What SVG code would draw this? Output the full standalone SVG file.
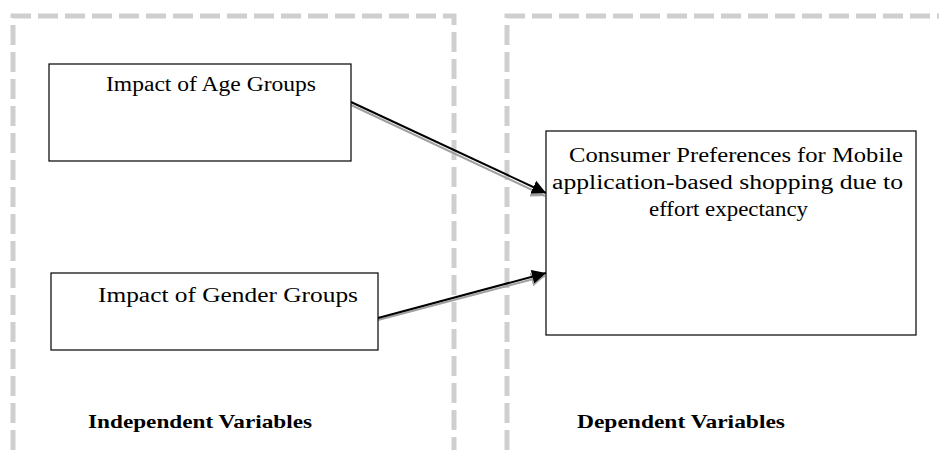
<svg xmlns="http://www.w3.org/2000/svg" width="939" height="450" viewBox="0 0 939 450">
<defs>
<style>
.frame{fill:none;stroke:#cfcfcf;stroke-width:5;stroke-dasharray:20 7}
.box{fill:#fff;stroke:#000;stroke-width:1.2}
.t{font-family:"Liberation Serif","DejaVu Serif",serif;font-size:20px;fill:#000}
.b{font-family:"Liberation Serif","DejaVu Serif",serif;font-size:19px;font-weight:bold;fill:#000}
.shadow{stroke:#a0a0a0;stroke-width:2;fill:none}
.line{stroke:#000;stroke-width:2;fill:none}
</style>
<marker id="ah" viewBox="0 0 10 10" refX="10" refY="5" markerWidth="7" markerHeight="7" markerUnits="strokeWidth" orient="auto">
<path d="M0,0 L10,5 L0,10 z" fill="#000"/>
</marker>
<marker id="ahs" viewBox="0 0 10 10" refX="10" refY="5" markerWidth="7" markerHeight="7" markerUnits="strokeWidth" orient="auto">
<path d="M0,0 L10,5 L0,10 z" fill="#a0a0a0"/>
</marker>
</defs>
<rect width="939" height="450" fill="#fff"/>
<g id="frames">
<path class="frame" d="M13,450 V16 H454 V450"/>
<path class="frame" d="M507,450 V16 H939"/>
</g>
<g id="connectors">
<line class="shadow" x1="351" y1="105" x2="545" y2="196" marker-end="url(#ahs)"/>
<line class="line" x1="351" y1="102" x2="546" y2="193" marker-end="url(#ah)"/>
<line class="shadow" x1="378" y1="320" x2="545" y2="276" marker-end="url(#ahs)"/>
<line class="line" x1="378" y1="318" x2="546" y2="273" marker-end="url(#ah)"/>
</g>
<g id="age">
<rect class="box" x="49" y="64" width="302" height="97"/>
<text class="t" x="106" y="91" textLength="210" lengthAdjust="spacingAndGlyphs">Impact of Age Groups</text>
</g>
<g id="gender">
<rect class="box" x="51" y="273" width="327" height="77"/>
<text class="t" x="98" y="302" textLength="260" lengthAdjust="spacingAndGlyphs">Impact of Gender Groups</text>
</g>
<g id="consumer">
<rect class="box" x="546" y="131" width="370" height="204"/>
<text class="t" x="569" y="162" textLength="334" lengthAdjust="spacingAndGlyphs">Consumer Preferences for Mobile</text>
<text class="t" x="552" y="189" textLength="351" lengthAdjust="spacingAndGlyphs">application-based shopping due to</text>
<text class="t" x="649" y="216" textLength="159" lengthAdjust="spacingAndGlyphs">effort expectancy</text>
</g>
<g id="labels">
<text class="b" x="88" y="428" textLength="224" lengthAdjust="spacingAndGlyphs">Independent Variables</text>
<text class="b" x="577" y="428" textLength="208" lengthAdjust="spacingAndGlyphs">Dependent Variables</text>
</g>
</svg>
